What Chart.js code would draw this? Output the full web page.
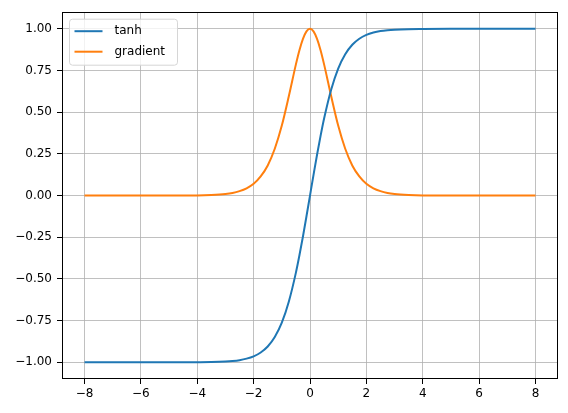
<!DOCTYPE html>
<html>
<head>
<meta charset="utf-8">
<script src="https://cdn.jsdelivr.net/npm/chart.js@4"></script>
<style>
  body { margin: 0; background: #fff; }
  canvas { display: block; }
</style>
</head>
<body>
<canvas id="tanhChart" width="568" height="413"></canvas>
<script>
/* ================================
   Data
================================ */
const xValues = [
  -8, -7, -6, -5, -4, -3.5, -3, -2.75, -2.5, -2.25, -2, -1.75, -1.5, -1.25, -1, -0.75, -0.5, -0.375, -0.25, -0.125,
  0, 0.125, 0.25, 0.375, 0.5, 0.75, 1, 1.25, 1.5, 1.75, 2, 2.25, 2.5, 2.75, 3, 3.5, 4, 5, 6, 7, 8
];
const tanhValues = [
  -1.000, -1.000, -1.000, -1.000, -0.999, -0.998, -0.995, -0.992, -0.987, -0.978, -0.964, -0.941, -0.905, -0.848, -0.762, -0.635, -0.462, -0.358, -0.245, -0.124,
  0.000, 0.124, 0.245, 0.358, 0.462, 0.635, 0.762, 0.848, 0.905, 0.941, 0.964, 0.978, 0.987, 0.992, 0.995, 0.998, 0.999, 1.000, 1.000, 1.000, 1.000
];
const gradientValues = [
  0.000, 0.000, 0.000, 0.000, 0.001, 0.004, 0.010, 0.016, 0.027, 0.044, 0.071, 0.115, 0.181, 0.281, 0.420, 0.597, 0.787, 0.872, 0.940, 0.985,
  1.000, 0.985, 0.940, 0.872, 0.787, 0.597, 0.420, 0.281, 0.181, 0.115, 0.071, 0.044, 0.027, 0.016, 0.010, 0.004, 0.001, 0.000, 0.000, 0.000, 0.000
];
const xTicks = [-8, -6, -4, -2, 0, 2, 4, 6, 8];
const yTicks = [-1.00, -0.75, -0.50, -0.25, 0.00, 0.25, 0.50, 0.75, 1.00];

const FONT = { family: "DejaVu Sans", size: 12 };
const minus = s => s.replace("-", "\u2212");

function toPoints(ys) {
  return xValues.map((x, i) => ({ x, y: ys[i] }));
}

/* ================================
   Plugins: frame + legend box
================================ */
const framePlugin = {
  id: "frame",
  afterDraw(chart) {
    const { ctx, chartArea: a } = chart;
    ctx.save();
    ctx.strokeStyle = "#000";
    ctx.lineWidth = 1;
    ctx.strokeRect(Math.round(a.left) + 0.5, Math.round(a.top) + 0.5,
      Math.round(a.right - a.left) - 1, Math.round(a.bottom - a.top) - 1);
    ctx.restore();
  }
};

const legendBoxPlugin = {
  id: "legendBox",
  afterDraw(chart) {
    const { ctx, chartArea: a } = chart;
    const bx = a.left + 7.5, by = a.top + 7, bw = 108, bh = 46;
    ctx.save();
    ctx.beginPath();
    ctx.roundRect(bx, by, bw, bh, 3);
    ctx.fillStyle = "rgba(255,255,255,0.8)";
    ctx.fill();
    ctx.strokeStyle = "#d6d6d6";
    ctx.lineWidth = 1;
    ctx.stroke();
    ctx.font = `${FONT.size}px ${FONT.family}`;
    ctx.textBaseline = "middle";
    chart.data.datasets.forEach((ds, i) => {
      const y = by + 12 + i * 20.5;
      ctx.beginPath();
      ctx.moveTo(bx + 5, y);
      ctx.lineTo(bx + 33, y);
      ctx.strokeStyle = ds.borderColor;
      ctx.lineWidth = 2;
      ctx.stroke();
      ctx.fillStyle = "#000";
      ctx.fillText(ds.label, bx + 45, y);
    });
    ctx.restore();
  }
};

/* ================================
   Chart
================================ */
new Chart(document.getElementById("tanhChart"), {
  type: "line",
  data: {
    datasets: [
      {
        label: "tanh",
        data: toPoints(tanhValues),
        borderColor: "#1f77b4",
        borderWidth: 2,
        pointRadius: 0,
        cubicInterpolationMode: "monotone"
      },
      {
        label: "gradient",
        data: toPoints(gradientValues),
        borderColor: "#ff7f0e",
        borderWidth: 2,
        pointRadius: 0,
        cubicInterpolationMode: "monotone"
      }
    ]
  },
  options: {
    responsive: false,
    animation: false,
    layout: { padding: { top: 10, right: 10, left: 0, bottom: 0 } },
    plugins: {
      legend: { display: false },
      tooltip: { enabled: false }
    },
    scales: {
      x: {
        type: "linear",
        min: -8.8,
        max: 8.8,
        afterBuildTicks: s => { s.ticks = xTicks.map(v => ({ value: v })); },
        afterFit: s => { s.height = 34; },
        ticks: {
          font: FONT,
          color: "#000",
          padding: 3,
          maxRotation: 0,
          callback: v => minus(String(v))
        },
        grid: {
          color: "#b0b0b0",
          lineWidth: 0.8,
          tickColor: "#000",
          tickLength: 5,
          tickWidth: 1
        },
        border: { display: false }
      },
      y: {
        min: -1.1,
        max: 1.1,
        afterBuildTicks: s => { s.ticks = yTicks.map(v => ({ value: v })); },
        afterFit: s => { s.width = 62; },
        ticks: {
          font: FONT,
          color: "#000",
          padding: 5,
          callback: v => minus(Number(v).toFixed(2))
        },
        grid: {
          color: "#b0b0b0",
          lineWidth: 0.8,
          tickColor: "#000",
          tickLength: 5,
          tickWidth: 1
        },
        border: { display: false }
      }
    }
  },
  plugins: [framePlugin, legendBoxPlugin]
});
</script>
</body>
</html>
